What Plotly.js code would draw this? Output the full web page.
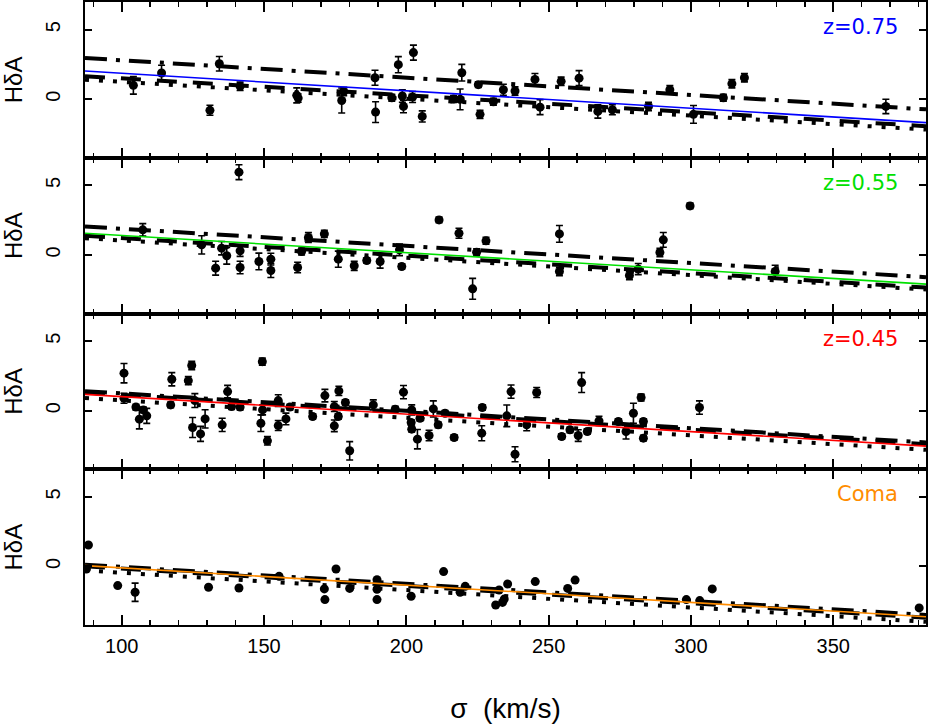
<!DOCTYPE html>
<html><head><meta charset="utf-8">
<script src="https://cdn.plot.ly/plotly-3.0.1.min.js"></script>
<style>html,body{margin:0;padding:0;background:#fff}#chart{width:929px;height:728px}</style>
</head><body><div id="chart"></div>
<script>
// ---- data ----
const sigmaRange = [87.1, 382.6];
const xTickVals = [100, 150, 200, 250, 300, 350];
const yTickVals = [0, 5];
const panelLabels = ["z=0.75", "z=0.55", "z=0.45", "Coma"];
const panelColors = ["#0000ff", "#00e000", "#ff0000", "#ff8c00"];

// z=0.75
const x1 = [104.1,114,131,134.3,141.6,161.5,162,177.3,178,189,189.2,197.2,194.9,198.6,199,202.5,202.2,205.6,216.6,218.9,219.5,225.9,225.3,230.6,234.1,238.2,245.2,247,254.4,260.7,267.3,272.4,285.1,292.6,300.9,311.4,314.4,318.8,368.5];
const y1 = [0.99,1.88,-0.81,2.55,0.92,0.27,0.07,-0.1,0.55,1.54,-0.94,2.48,0.1,0.22,-0.53,3.35,0.15,-1.25,0.0,-0.02,1.9,-1.1,1.04,-0.2,0.67,0.58,1.42,-0.58,1.28,1.51,-0.89,-0.77,-0.53,0.68,-1.1,0.1,1.11,1.54,-0.53];
const e1 = [0.63,0.56,0.36,0.52,0.3,0.54,0.3,0.9,0.3,0.54,0.75,0.58,0.25,0.45,0.45,0.54,0.4,0.4,0.25,0.75,0.6,0.3,0.2,0.25,0.4,0.3,0.42,0.54,0.3,0.54,0.48,0.36,0.3,0.3,0.64,0.25,0.3,0.3,0.52];
// z=0.55
const x2 = [107.4,128.1,133,135.1,136.9,141.2,141.6,141.6,148.2,152.4,152.4,161.8,163.2,165.6,171.2,176.1,181.7,186.1,190.8,198.4,197.6,211.5,218.5,223.3,224.7,228,253.8,253.8,278.4,281.5,289.1,290.3,299.7,329.6];
const y2 = [1.8,0.72,-0.96,0.48,-0.07,5.96,0.29,-0.91,-0.48,-0.31,-1.13,-0.91,0.24,1.25,1.51,-0.31,-0.79,-0.41,-0.48,-0.84,0.36,2.52,1.56,-2.45,0.19,1.01,1.51,-1.2,-1.49,-1.03,0.17,1.08,3.53,-1.2];
const e2 = [0.45,0.66,0.5,0.48,0.6,0.54,0.4,0.45,0.6,0.42,0.5,0.38,0.25,0.35,0.25,0.58,0.33,0.2,0.48,0.2,0.42,0.2,0.36,0.75,0.25,0.25,0.6,0.3,0.3,0.4,0.3,0.53,0.2,0.45];
// z=0.45
const x3 = [100.8,100.8,105,106.2,107.6,108.8,117.6,117.2,123.4,124.6,125.7,124.9,127.7,129.3,135.3,137.2,138.6,141.6,149.4,148.9,151.2,149.5,155,155,157.7,159.1,167.1,171.4,174.7,176.3,174.7,178.6,176.1,180.1,188.4,196.1,199,201.9,201.7,201.9,203.9,204.8,208,209.5,211.2,213.6,216.8,226.5,226.7,235.3,236.8,238.2,242.3,245.8,254.6,257.5,260.4,261.6,263.6,267.7,274.5,277.2,279.8,282.5,283.3,283.3,303];
const y3 = [2.7,0.89,0.25,-0.62,0.05,-0.38,2.26,0.41,2.16,3.25,0.72,-1.22,-1.68,-0.6,-1.03,1.37,0.29,0.25,3.53,-0.91,-2.18,0.05,0.72,-1.08,-0.6,0.25,-0.43,1.08,0.29,1.42,-1.1,0.58,-0.43,-2.9,0.41,0.1,1.33,0.05,-0.86,-1.34,-2.06,-0.55,-1.8,0.12,-1.03,-0.19,-1.94,-1.63,0.22,-0.38,1.37,-3.15,-1.03,1.3,-1.87,-1.39,-1.8,2.02,-1.51,-0.74,-0.79,-1.51,-0.19,0.94,-0.79,-1.99,0.22];
const e3 = [0.7,0.36,0.2,0.7,0.2,0.54,0.48,0.2,0.3,0.3,0.5,0.72,0.54,0.66,0.48,0.45,0.2,0.2,0.25,0.6,0.3,0.36,0.42,0.36,0.42,0.2,0.2,0.45,0.36,0.33,0.42,0.2,0.2,0.66,0.36,0.2,0.48,0.36,0.2,0.2,0.7,0.2,0.38,0.58,0.2,0.2,0.2,0.54,0.2,0.78,0.48,0.54,0.42,0.36,0.2,0.2,0.42,0.72,0.2,0.33,0.2,0.54,0.72,0.25,0.2,0.2,0.48];
// Coma
const x4 = [88.3,87.6,98.6,104.7,130.5,141.2,155.3,171.2,171.4,175.3,180.1,189.7,189.7,189.7,201.7,213.1,220.7,218.9,231.4,232.6,234.4,235.6,233.8,245.3,256.7,259.3,298.4,303.1,307.5,380.2];
const y4 = [1.54,-0.19,-1.39,-1.87,-1.51,-1.56,-0.72,-1.63,-2.4,-0.19,-1.59,-0.96,-2.4,-1.65,-2.16,-0.38,-1.44,-1.87,-2.79,-1.71,-2.36,-1.27,-2.6,-1.1,-1.59,-0.99,-2.4,-2.47,-1.63,-3.0];
const e4 = [0,0,0,0.66,0,0,0,0,0,0,0,0,0,0,0,0,0,0,0,0,0,0,0,0,0,0,0,0,0,0];

// relation lines: values at the two ends of sigmaRange
const fitColour = [[2.02,-1.70],[1.56,-2.11],[1.17,-2.56],[0.05,-3.63]];
const fitDashDot = [[2.96,-0.74],[2.04,-1.61],[1.40,-2.30],[0.12,-3.50]];
const fitDash = [[1.65,-1.95],[1.37,-2.36],[1.30,-2.42],[0.00,-3.70]];
const fitDot = [[1.40,-2.20],[1.20,-2.50],[0.90,-2.83],[-0.30,-4.00]];

const X = [x1,x2,x3,x4], Y = [y1,y2,y3,y4], E = [e1,e2,e3,e4];

// ---- build ----
const traces = [];
const fontT = 'Liberation Sans, Arial, sans-serif';
const layout = {
  width: 929, height: 728,
  margin: {l: 85, r: 3, t: 2, b: 103},
  paper_bgcolor: '#fff', plot_bgcolor: '#fff',
  showlegend: false,
  font: {family: fontT, color: '#000', size: 20},
  annotations: []
};
for (let i = 0; i < 4; i++) {
  const s = i === 0 ? '' : String(i + 1);
  const xa = 'x' + s, ya = 'y' + s;
  traces.push({x: X[i], y: Y[i], xaxis: xa, yaxis: ya, type: 'scatter', mode: 'markers',
    marker: {color: '#000', size: 9},
    error_y: {type: 'data', array: E[i], visible: true, color: '#000', thickness: 1.6, width: 3.5}});
  traces.push({x: sigmaRange, y: fitDashDot[i], xaxis: xa, yaxis: ya, mode: 'lines',
    line: {color: '#000', width: 4, dash: '22px,9px,4px,9px'}});
  traces.push({x: sigmaRange, y: fitDash[i], xaxis: xa, yaxis: ya, mode: 'lines',
    line: {color: '#000', width: 4, dash: '20px,16px'}});
  traces.push({x: sigmaRange, y: fitDot[i], xaxis: xa, yaxis: ya, mode: 'lines',
    line: {color: '#000', width: 4, dash: '4px,10px'}});
  traces.push({x: sigmaRange, y: fitColour[i], xaxis: xa, yaxis: ya, mode: 'lines',
    line: {color: panelColors[i], width: 1.6}});
  const top = 1 - i * 0.25;
  layout['xaxis' + s] = {
    anchor: ya, domain: [0, 1], range: sigmaRange, tickvals: xTickVals,
    ticks: 'inside', ticklen: 10, tickwidth: 2, tickcolor: '#000',
    minor: {dtick: 10, tick0: 0, ticks: 'inside', ticklen: 5, tickwidth: 1.5, tickcolor: '#000'},
    showline: true, linecolor: '#000', linewidth: 2, mirror: 'allticks',
    showgrid: false, zeroline: false,
    showticklabels: i === 3,
    tickfont: {family: fontT, size: 20},
    ticklabelstandoff: 2,
    matches: i === 0 ? undefined : 'x'
  };
  if (i === 3) layout['xaxis' + s].title = {text: 'σ  (km/s)', font: {family: fontT, size: 28}, standoff: 42};
  layout['yaxis' + s] = {
    anchor: xa, domain: [top - 0.25, top], range: [-4.23, 7], tickvals: yTickVals,
    ticks: 'inside', ticklen: 7, tickwidth: 2, tickcolor: '#000',
    showline: true, linecolor: '#000', linewidth: 2, mirror: 'allticks',
    showgrid: false, zeroline: false,
    tickangle: -90, tickfont: {family: fontT, size: 20}, ticklabelstandoff: 15,
    title: {text: 'HδA', font: {family: fontT, size: 24}, standoff: 17}
  };
  layout.annotations.push({xref: xa + ' domain', yref: ya + ' domain', x: 0.969, y: 1 - 25 / 155.75,
    xanchor: 'right', yanchor: 'middle', showarrow: false, text: panelLabels[i],
    font: {family: 'DejaVu Sans, sans-serif', size: 21, color: panelColors[i]}});
}
Plotly.newPlot('chart', traces, layout, {displayModeBar: false, staticPlot: true});
</script></body></html>
